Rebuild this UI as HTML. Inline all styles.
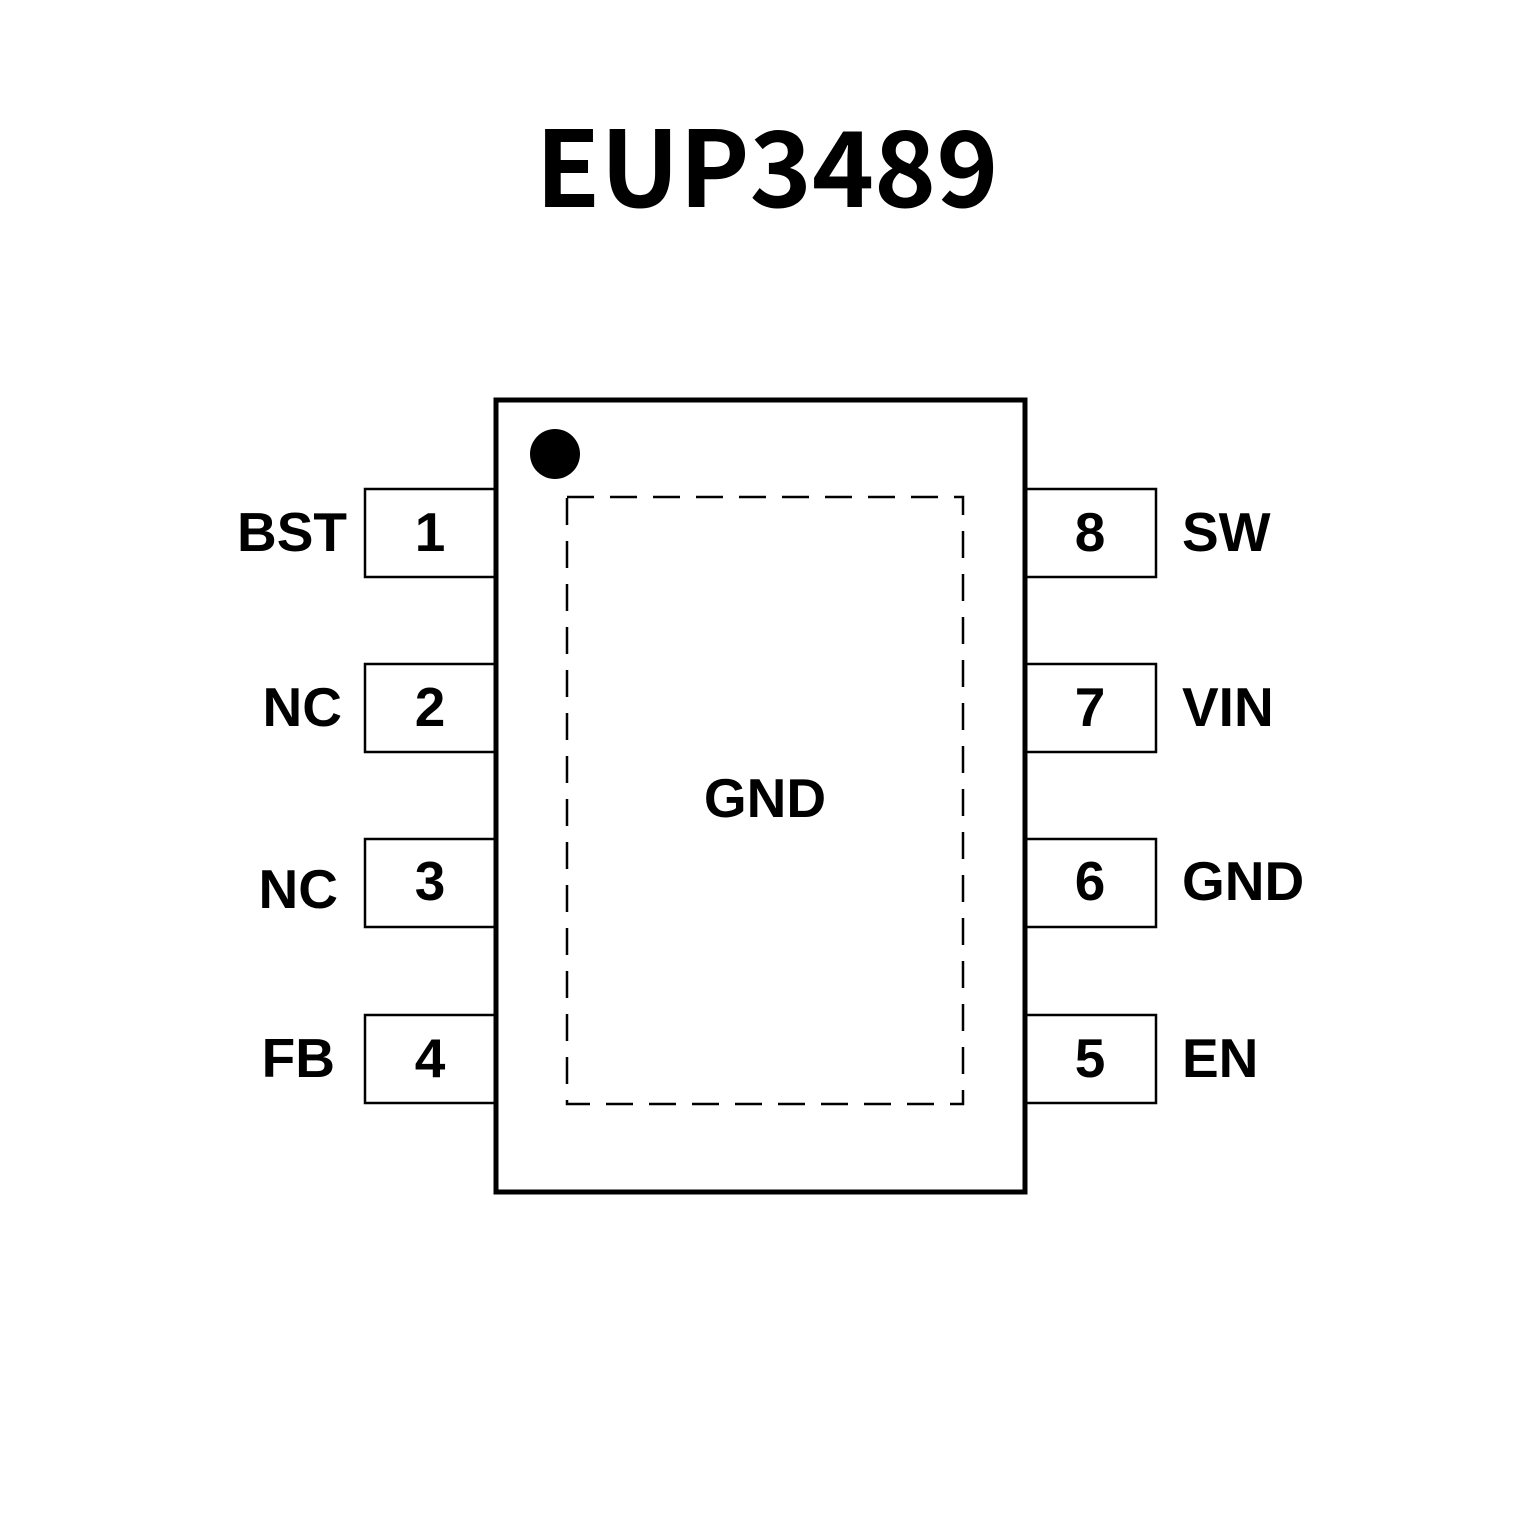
<!DOCTYPE html>
<html><head><meta charset="utf-8"><style>
html,body{margin:0;padding:0;background:#fff;}
svg{display:block}
text{font-family:"Liberation Sans",Arial,sans-serif;font-weight:bold;fill:#000}
</style></head><body>
<svg width="1535" height="1535" viewBox="0 0 1535 1535" xmlns="http://www.w3.org/2000/svg">
<rect width="1535" height="1535" fill="#fff"/>
<text x="767" y="207" text-anchor="middle" style="font-family:'Noto Sans CJK JP','Liberation Sans',sans-serif;font-size:105px;font-weight:bold" textLength="463" lengthAdjust="spacingAndGlyphs">EUP3489</text>
<g fill="none" stroke="#000" stroke-width="2.5">
<rect x="365" y="489" width="131" height="88"/>
<rect x="365" y="664" width="131" height="88"/>
<rect x="365" y="839" width="131" height="88"/>
<rect x="365" y="1015" width="131" height="88"/>
<rect x="1025" y="489" width="131" height="88"/>
<rect x="1025" y="664" width="131" height="88"/>
<rect x="1025" y="839" width="131" height="88"/>
<rect x="1025" y="1015" width="131" height="88"/>
</g>
<rect x="496" y="400" width="529" height="792" fill="#fff" stroke="#000" stroke-width="5"/>
<rect x="567" y="497" width="396" height="607" fill="none" stroke="#000" stroke-width="2.5" stroke-dasharray="27,16"/>
<circle cx="555" cy="454" r="25" fill="#000"/>
<g font-size="55">
<text x="430" y="551" text-anchor="middle">1</text>
<text x="430" y="726" text-anchor="middle">2</text>
<text x="430" y="900" text-anchor="middle">3</text>
<text x="430" y="1077" text-anchor="middle">4</text>
<text x="1090" y="551" text-anchor="middle">8</text>
<text x="1090" y="726" text-anchor="middle">7</text>
<text x="1090" y="900" text-anchor="middle">6</text>
<text x="1090" y="1077" text-anchor="middle">5</text>
<text x="347" y="551" text-anchor="end">BST</text>
<text x="342" y="726" text-anchor="end">NC</text>
<text x="338" y="908" text-anchor="end">NC</text>
<text x="335" y="1077" text-anchor="end">FB</text>
<text x="1182" y="551">SW</text>
<text x="1182" y="726">VIN</text>
<text x="1182" y="900">GND</text>
<text x="1182" y="1077">EN</text>
<text x="765" y="817" text-anchor="middle">GND</text>
</g>
</svg>
</body></html>
